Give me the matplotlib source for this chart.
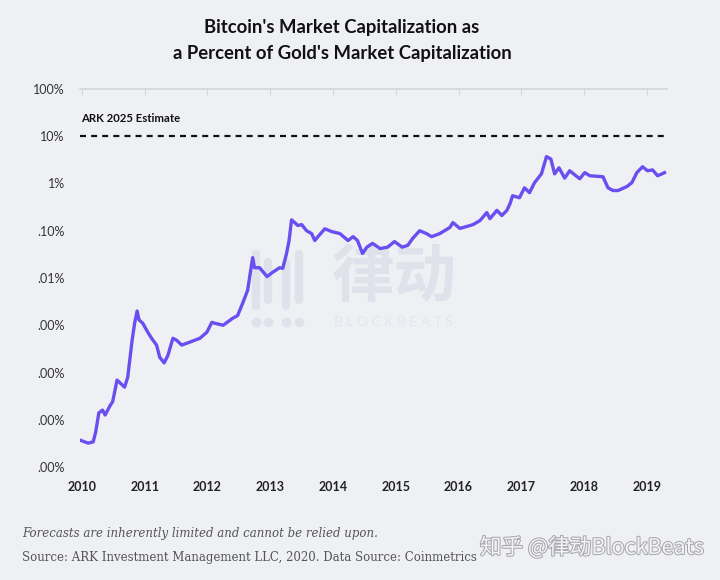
import matplotlib
matplotlib.use("Agg")
import matplotlib.pyplot as plt
import matplotlib.patheffects as pe
from matplotlib.lines import Line2D

# ---- data ----
years = [2009.97, 2010.10, 2010.18, 2010.22, 2010.27, 2010.33, 2010.37, 2010.45, 2010.49,
         2010.56, 2010.61, 2010.68, 2010.73, 2010.80, 2010.84, 2010.88, 2010.91, 2010.97,
         2011.05, 2011.11, 2011.19, 2011.24, 2011.31, 2011.37, 2011.45, 2011.51, 2011.59,
         2011.72, 2011.88, 2011.99, 2012.07, 2012.12, 2012.25, 2012.40, 2012.48, 2012.56,
         2012.64, 2012.72, 2012.75, 2012.83, 2012.95, 2013.03, 2013.15, 2013.20, 2013.26,
         2013.30, 2013.34, 2013.39, 2013.44, 2013.50, 2013.58, 2013.66, 2013.71, 2013.76,
         2013.87, 2013.98, 2014.11, 2014.24, 2014.32, 2014.39, 2014.47, 2014.54, 2014.63,
         2014.75, 2014.87, 2014.98, 2015.10, 2015.19, 2015.27, 2015.38, 2015.49, 2015.57,
         2015.70, 2015.86, 2015.91, 2016.02, 2016.13, 2016.23, 2016.34, 2016.45, 2016.50,
         2016.61, 2016.69, 2016.77, 2016.82, 2016.86, 2016.97, 2017.05, 2017.13, 2017.21,
         2017.32, 2017.40, 2017.47, 2017.53, 2017.60, 2017.69, 2017.77, 2017.93, 2018.01,
         2018.09, 2018.30, 2018.38, 2018.46, 2018.54, 2018.68, 2018.76, 2018.84, 2018.93,
         2019.01, 2019.09, 2019.17, 2019.24, 2019.28]
pct = [3.7e-6, 3.2e-6, 3.4e-6, 5.5e-6, 1.4e-5, 1.6e-5, 1.26e-5, 2.0e-5, 2.4e-5,
       6.9e-5, 6.0e-5, 4.9e-5, 7.9e-5, 4.8e-4, 1.1e-3, 2.0e-3, 1.3e-3, 1.1e-3,
       7.1e-4, 5.3e-4, 3.8e-4, 2.1e-4, 1.6e-4, 2.3e-4, 5.3e-4, 4.8e-4, 3.8e-4,
       4.4e-4, 5.3e-4, 7.1e-4, 1.15e-3, 1.1e-3, 1.0e-3, 1.4e-3, 1.6e-3, 2.9e-3,
       5.5e-3, 0.027, 0.0165, 0.0165, 0.0107, 0.013, 0.0165, 0.016, 0.033,
       0.062, 0.17, 0.149, 0.129, 0.135, 0.10, 0.087, 0.062, 0.075,
       0.11, 0.096, 0.087, 0.062, 0.075, 0.062, 0.033, 0.045, 0.054,
       0.042, 0.045, 0.059, 0.045, 0.049, 0.069, 0.10, 0.087, 0.075,
       0.087, 0.117, 0.149, 0.112, 0.123, 0.135, 0.164, 0.242, 0.18,
       0.27, 0.21, 0.27, 0.375, 0.55, 0.50, 0.81, 0.64, 1.04,
       1.6, 3.7, 3.3, 1.6, 2.15, 1.3, 1.86, 1.26, 1.7,
       1.46, 1.39, 0.81, 0.71, 0.71, 0.86, 1.04, 1.7, 2.26,
       1.86, 1.94, 1.46, 1.6, 1.7]
estimate_value = 10
estimate_label = "ARK 2025 Estimate"
ytick_vals = [100, 10, 1, 0.1, 0.01, 0.001, 0.0001, 0.00001, 0.000001]
ytick_labels = ["100%", "10%", "1%", ".10%", ".01%", ".00%", ".00%", ".00%", ".00%"]
xtick_vals = list(range(2010, 2020))
xtick_labels = [str(y) for y in xtick_vals]

BG = "#eff0f4"
PURPLE = "#6a4ff0"
WM = "#dfe2ea"

fig = plt.figure(figsize=(7.2, 5.8), dpi=100, facecolor=BG)
ax = fig.add_axes([80/720, 1-467/580, (667-80)/720, (467-89)/580], zorder=2)
ax.patch.set_visible(False)

ax.plot(years, pct, color=PURPLE, lw=2.4, solid_joinstyle="round", zorder=3)
ax.axhline(estimate_value, color="#111111", lw=1.6, ls=(0, (2.7, 2.3)), zorder=2)
ax.text(2009.99, 24, estimate_label, fontsize=8.2, fontweight="bold",
        family="Lato", color="#111111", va="center", ha="left")

ax.set_yscale("log")
ax.set_ylim(1e-6, 100)
ax.set_xlim(2009.97, 2019.32)
ax.minorticks_off()
ax.set_yticks(ytick_vals)
ax.set_yticklabels(ytick_labels)
ax.set_xticks(xtick_vals)
ax.set_xticklabels(xtick_labels)
for lab in ax.get_yticklabels():
    lab.set_family("Lato"); lab.set_fontsize(9); lab.set_color("#333333")
for lab in ax.get_xticklabels():
    lab.set_family("Lato"); lab.set_fontsize(9); lab.set_fontweight("bold"); lab.set_color("#222222")
ax.tick_params(axis="y", length=0, pad=11)
ax.tick_params(axis="x", bottom=False, top=True, direction="in", length=4,
               color="#d4d6dc", labelbottom=True, pad=10)
for s in ["left", "right", "bottom"]:
    ax.spines[s].set_visible(False)
ax.spines["top"].set_color("#d4d6dc")
ax.spines["top"].set_linewidth(1.2)

# title
fig.text(342/720, 1-28/580, "Bitcoin's Market Capitalization as", ha="center", va="center",
         fontsize=13.3, fontweight="bold", family="Lato", color="#111111")
fig.text(342/720, 1-53/580, "a Percent of Gold's Market Capitalization", ha="center", va="center",
         fontsize=13.3, fontweight="bold", family="Lato", color="#111111")

# footer
fig.text(22/720, 1-533/580, "Forecasts are inherently limited and cannot be relied upon.",
         fontsize=8.5, style="italic", family="DejaVu Serif", color="#555555", va="center")
fig.text(22/720, 1-557/580, "Source: ARK Investment Management LLC, 2020. Data Source: Coinmetrics",
         fontsize=8.5, family="DejaVu Serif", color="#555555", va="center")

# watermarks
wm = fig.text(480/720, 1-548/580, "知乎 @律动BlockBeats", fontsize=15.5,
              family=["Noto Sans CJK SC", "DejaVu Sans"], color="#f4f4f6", va="center",
              ha="left")
wm.set_path_effects([pe.withStroke(linewidth=1.5, foreground="#a8a8b0")])
fig.text(394/720, 1-278/580, "律动", fontsize=45, fontweight="bold", family=["Noto Sans CJK SC"],
         color=WM, ha="center", va="center", zorder=0)
fig.text(393/720, 1-322/580, "B L O C K B E A T S", fontsize=10, family="Lato",
         color="#e3e6ed", ha="center", va="center", zorder=0)
for xb, y0, y1 in [(256, 254, 306), (268, 262, 300), (286, 262, 306), (299, 254, 300)]:
    fig.add_artist(Line2D([xb/720, xb/720], [1-y0/580, 1-y1/580], color=WM,
                          lw=6, solid_capstyle="round", zorder=0))
for xb in [256, 268, 286, 299]:
    fig.add_artist(Line2D([xb/720], [1-322/580], marker="o", ms=6, color=WM, zorder=0))

fig.savefig("out.png", dpi=100, facecolor=BG)
